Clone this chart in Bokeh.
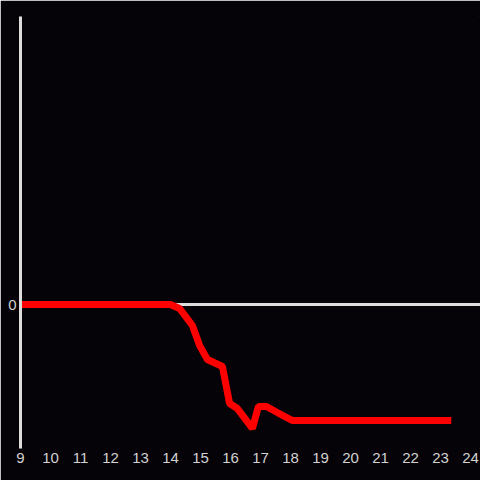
from bokeh.plotting import figure
from bokeh.models import FixedTicker, Span, Range1d
from bokeh.embed import file_html
from bokeh.resources import INLINE

# data
hours = [8.92, 14.0, 14.3, 14.73, 14.97, 15.23, 15.73, 15.97, 16.23, 16.73,
         16.93, 17.2, 17.8, 18.07, 23.36]
values = [0.0, 0.0, -0.033, -0.175, -0.342, -0.458, -0.517, -0.825, -0.867,
          -1.033, -0.85, -0.85, -0.933, -0.967, -0.967]
x_ticks = list(range(9, 25))
y_ticks = [0]

BG = "#050307"

p = figure(width=480, height=480, output_backend="svg", toolbar_location=None,
           x_range=Range1d(9, 24.333), y_range=Range1d(-1.2, 2.4),
           background_fill_color=BG, border_fill_color=BG,
           min_border_top=16, min_border_right=0, min_border_left=20, min_border_bottom=32)
p.outline_line_color = BG
p.outline_line_width = 1
p.grid.visible = False

p.add_layout(Span(location=0, dimension="width", line_color="#dddddd",
                  line_width=3, level="underlay"))

p.line(hours, values, line_color="#ff0000", line_width=7)

p.xaxis.ticker = FixedTicker(ticks=x_ticks)
p.yaxis.ticker = FixedTicker(ticks=y_ticks)
for ax in (p.xaxis, p.yaxis):
    ax.major_tick_line_color = None
    ax.minor_tick_line_color = None
    ax.major_tick_out = 0
    ax.major_tick_in = 0
    ax.minor_tick_out = 0
    ax.minor_tick_in = 0
    ax.major_label_text_color = "#d2d2d2"
    ax.major_label_text_font_size = "15px"
p.xaxis.major_label_standoff = 4
p.yaxis.major_label_standoff = 4
p.xaxis.axis_line_color = None
p.yaxis.axis_line_color = "#dddddd"
p.yaxis.axis_line_width = 3

open("out.html", "w").write(file_html(p, INLINE))
